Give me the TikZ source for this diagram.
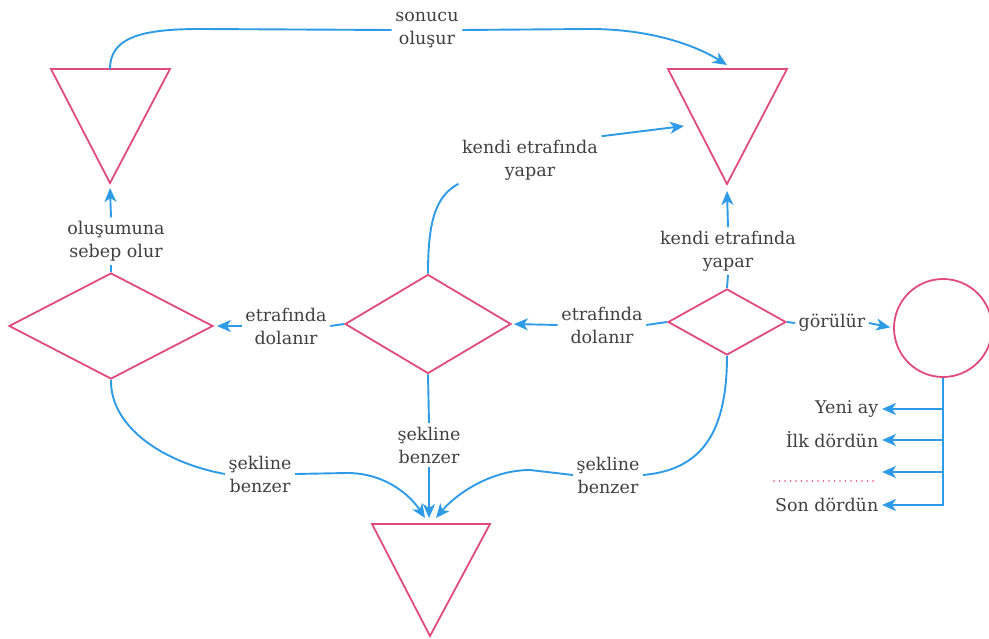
\documentclass[tikz,border=0pt]{standalone}
\usepackage{fontspec}
\setmainfont{DejaVu Serif}
\usetikzlibrary{shapes.geometric,arrows.meta}
\definecolor{pinkline}{HTML}{E04B7E}
\definecolor{blueline}{HTML}{2E9BE6}
\definecolor{txt}{HTML}{404040}

\begin{document}
\begin{tikzpicture}[x=1pt,y=-1pt,
  shapeline/.style={draw=pinkline, line width=1.8pt, line join=miter},
  link/.style={draw=blueline, line width=1.9pt},
  arr/.style={link, -{Stealth[length=14pt,width=12pt,inset=4pt]}},
  lbl/.style={text=txt, font=\fontsize{17.5}{23}\selectfont, align=center, inner sep=3.5pt},
  rhomb/.style={shapeline, diamond, inner sep=0pt},
]
\useasboundingbox (0,0) rectangle (989,639);

% triangles
\draw[shapeline] (51,69) -- (170,69) -- (110,183) -- cycle;
\draw[shapeline] (668,69) -- (787,69) -- (727,184) -- cycle;
\draw[shapeline] (372,524) -- (490,524) -- (430,636) -- cycle;
\coordinate (tAtop) at (110,69);
\coordinate (tAapex) at (110,188);
\coordinate (tBtop) at (727,65);
\coordinate (tBleft) at (684,126);
\coordinate (tBapex) at (727,191);
\coordinate (cL) at (425,518);
\coordinate (cM) at (429,518);
\coordinate (cR) at (436,518);

% diamonds and circle
\node[rhomb, minimum width=204pt, minimum height=106pt] (d1) at (111,326) {};
\node[rhomb, minimum width=166pt, minimum height=99pt] (d2) at (428,324) {};
\node[rhomb, minimum width=118pt, minimum height=66pt] (d3) at (727,322) {};
\node[shapeline, circle, minimum size=98pt, inner sep=0pt] (moon) at (943,328) {};

% labels
\node[lbl] (sonuc) at (427,30) {sonucu\\oluşur};
\node[lbl] (kendi1) at (530,160) {kendi etrafında\\yapar};
\node[lbl] (kendi2) at (728,251) {kendi etrafında\\yapar};
\node[lbl] (olus) at (116,241) {oluşumuna\\sebep olur};
\node[lbl] (etraf1) at (286,326) {etrafında\\dolanır};
\node[lbl] (etraf2) at (602,325) {etrafında\\dolanır};
\node[lbl] (gor) at (832,323) {görülür};
\node[lbl] (sek1) at (260,474) {şekline\\benzer};
\node[lbl] (sek2) at (429,445) {şekline\\benzer};
\node[lbl] (sek3) at (608,475) {şekline\\benzer};
\node[lbl, anchor=east] (yeni) at (882,409) {Yeni ay};
\node[lbl, anchor=east] (ilk) at (882,440) {İlk dördün};
\coordinate (etc) at (882,472);
\node[lbl, anchor=east] (son) at (882,505) {Son dördün};
\draw[pinkline, line width=1.9pt, line cap=round, dash pattern=on 0pt off 5.5pt] (774,481) -- (876,481);

% connectors
\draw[link] (tAtop) .. controls (110,38) and (140,29) .. (200,29) -- (sonuc.west);
\draw[arr] (sonuc.east) -- (590,29) .. controls (650,29) and (695,45) .. (tBtop);

\draw[link] (d2.north) .. controls (428,220) and (436,196) .. (kendi1.south west);
\draw[arr] (kendi1.north east) -- (tBleft);

\draw[link] (d3.north) -- (kendi2.south);
\draw[arr] (kendi2.north) -- (tBapex);

\draw[link] (d1.north) -- (d1.north |- olus.south);
\draw[arr] (d1.north |- olus.north) -- (tAapex);

\draw[link] (d2.west) -- (etraf1.east);
\draw[arr, shorten >=3pt] (etraf1.west) -- (d1.east);

\draw[link] (d3.west) -- (etraf2.east);
\draw[arr, shorten >=2pt] (etraf2.west) -- (d2.east);

\draw[link] (d3.east) -- (gor.west);
\draw[arr, shorten >=3pt] (gor.east) -- (moon.west);

\draw[arr] (moon.south) |- (son.east);
\draw[arr] (moon.south |- yeni.east) -- (yeni.east);
\draw[arr] (moon.south |- ilk.east) -- (ilk.east);
\draw[arr] (moon.south |- etc) -- (etc);

\draw[link] (d1.south) .. controls (110,425) and (160,462) .. (sek1.west);
\draw[arr] (sek1.east) -- (347,473) .. controls (385,473) and (410,495) .. (cL);

\draw[link] (d2.south) -- (sek2.north);
\draw[arr] (sek2.south) -- (cM);

\draw[link] (d3.south) .. controls (727,435) and (700,470) .. (sek3.east);
\draw[arr] (sek3.west) -- (530,470) .. controls (490,470) and (455,495) .. (cR);
\end{tikzpicture}
\end{document}
